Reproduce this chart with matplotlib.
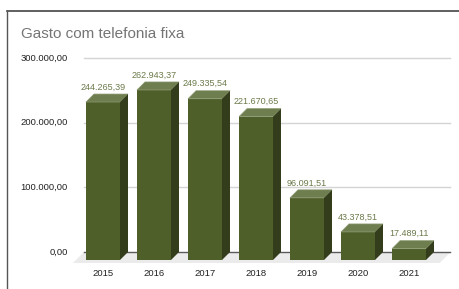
import matplotlib
matplotlib.use("Agg")
import matplotlib.pyplot as plt
from matplotlib.patches import Polygon
from matplotlib.lines import Line2D

years = ["2015", "2016", "2017", "2018", "2019", "2020", "2021"]
values = [244265.39, 262943.37, 249335.54, 221670.65, 96091.51, 43378.51, 17489.11]
value_labels = ["244.265,39", "262.943,37", "249.335,54", "221.670,65",
                "96.091,51", "43.378,51", "17.489,11"]
yticks = [0, 100000, 200000, 300000]
ytick_labels = ["0,00", "100.000,00", "200.000,00", "300.000,00"]

W, H, DPI = 459, 289, 100
fig = plt.figure(figsize=(W / DPI, H / DPI), dpi=DPI)
FONT = ["Liberation Sans", "DejaVu Sans"]

# axes: front plane, y=0 at pixel 260 from top, y=300000 at pixel 66
px_per_unit_x = 51.0
x0_px = 103.0
left = (x0_px - 0.5 * px_per_unit_x) / W
width = 7 * px_per_unit_x / W
bottom = (H - 260) / H
height = (260 - 66) / H
ax = fig.add_axes([left, bottom, width, height])
ax.set_xlim(-0.5, 6.5)
ax.set_ylim(0, 300000)
ax.axis("off")

# depth of 3D effect in data units (8 px right, 8 px up)
dx = 8.0 / px_per_unit_x
dy = 8.0 * 300000 / (260 - 66)
py = 300000 / 194.0  # data units per pixel (y)

front_c = "#4f5f29"
top_c = "#6f7e4e"
side_c = "#333d1b"
edge_c = "#8a9870"
label_c = "#6b7a4a"

# floor
fl = -0.59
fr = 6.6
fy = -3.0 * py
floor = Polygon([(fl, fy), (fr, fy), (fr + 11 / 51, fy + 11 * py),
                 (fl + 11 / 51, fy + 11 * py)],
                closed=True, facecolor="#ebebeb", edgecolor="none",
                clip_on=False, zorder=0)
ax.add_patch(floor)

# gridlines in back plane
gx0 = -0.37
gx1 = 6.80
for t in yticks:
    col = "#5a5a5a" if t == 0 else "#d4d4d4"
    ax.add_line(Line2D([gx0, gx1], [t + dy, t + dy], color=col,
                       lw=1.0, clip_on=False, zorder=1))

# y tick labels
for t, lab in zip(yticks, ytick_labels):
    y_disp = ax.transData.transform((0, t + dy))[1]
    fig.text(68 / W, y_disp / H, lab, ha="right", va="center",
             fontsize=6.8, color="#222222", family=FONT)

bw = 34.0 / px_per_unit_x
for i, (v, lab) in enumerate(zip(values, value_labels)):
    xl = i - bw / 2
    xr = i + bw / 2
    ax.add_patch(Polygon([(xl, 0), (xr, 0), (xr, v), (xl, v)],
                         facecolor=front_c, edgecolor="none", clip_on=False, zorder=3))
    ax.add_patch(Polygon([(xl, v), (xr, v), (xr + dx, v + dy), (xl + dx, v + dy)],
                         facecolor=top_c, edgecolor=edge_c, lw=0.5,
                         clip_on=False, zorder=3))
    ax.add_patch(Polygon([(xr, 0), (xr + dx, dy), (xr + dx, v + dy), (xr, v)],
                         facecolor=side_c, edgecolor="none", clip_on=False, zorder=3))
    ax.text(i, v + dy + 2.5 * py, lab, ha="center", va="bottom",
            fontsize=6.5, color=label_c, family=FONT, zorder=4)
    ax.text(i, -14 * py, years[i], ha="center", va="center",
            fontsize=6.8, color="#222222", family=FONT)

# title
fig.text(21 / W, 1 - 34 / H, "Gasto com telefonia fixa", ha="left", va="center",
         fontsize=11, color="#757575", family=FONT)

# frame lines
fig.add_artist(Line2D([6.5 / W, 1], [1 - 10.5 / H, 1 - 10.5 / H],
                      color="#444444", lw=1.2))
fig.add_artist(Line2D([6.5 / W, 6.5 / W], [0, 1 - 10.5 / H],
                      color="#555555", lw=1.0))

fig.savefig("out.png", dpi=DPI, facecolor="white")
